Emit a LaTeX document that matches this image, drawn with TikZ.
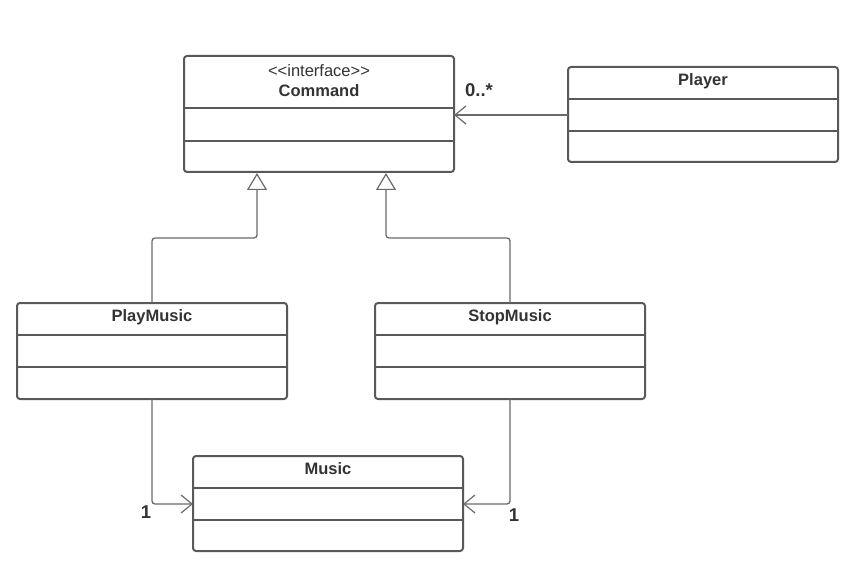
\documentclass[tikz,border=0pt]{standalone}
\usepackage{fontspec}
\setmainfont{Liberation Sans}[Ligatures=TeXOff]
\usetikzlibrary{arrows.meta}
\definecolor{boxc}{HTML}{595959}
\definecolor{linec}{HTML}{6A6A6A}
\definecolor{txtc}{HTML}{333333}
\begin{document}
\begin{tikzpicture}[x=1pt,y=-1pt,
  umlbox/.style={draw=boxc,line width=2pt,rounded corners=3pt},
  divider/.style={draw=boxc,line width=2pt},
  conn/.style={draw=linec,line width=1.3pt,rounded corners=3pt},
  openarrow/.style={-{Straight Barb[length=11pt,width=18pt,line width=1.2pt]}},
  inherit/.style={-{Triangle[open,length=17pt,width=20pt,line width=1.2pt,fill=white]}},
  title/.style={font=\fontsize{16.5}{19}\selectfont\bfseries,text=txtc},
  stereo/.style={font=\fontsize{16.5}{19}\selectfont,text=txtc},
  mult/.style={font=\fontsize{18.5}{21}\selectfont\bfseries,text=txtc}]
\useasboundingbox (0,0) rectangle (866,577);
% Command
\draw[umlbox] (184,56) rectangle (454,172);
\draw[divider] (184,108) -- (454,108);
\draw[divider] (184,141) -- (454,141);
\node[stereo] (cst) at (319,71) {<\kern0pt<interface>\kern0pt>};
\node[title] (cmd) at (319,91) {Command};
\coordinate (cmdR) at (454,115);
\coordinate (cmdB1) at (257,173);
\coordinate (cmdB2) at (386,173);
% Player
\draw[umlbox] (568,67) rectangle (838,162);
\draw[divider] (568,99) -- (838,99);
\draw[divider] (568,131) -- (838,131);
\node[title] (pl) at (703,81) {Player};
\coordinate (plL) at (568,115);
% PlayMusic
\draw[umlbox] (17,303) rectangle (287,399);
\draw[divider] (17,335) -- (287,335);
\draw[divider] (17,367) -- (287,367);
\node[title] (pm) at (152,317) {PlayMusic};
\coordinate (pmT) at (152,303);
\coordinate (pmB) at (152,399);
% StopMusic
\draw[umlbox] (375,303) rectangle (645,399);
\draw[divider] (375,335) -- (645,335);
\draw[divider] (375,367) -- (645,367);
\node[title] (sm) at (510,317) {StopMusic};
\coordinate (smT) at (510,303);
\coordinate (smB) at (510,399);
% Music
\draw[umlbox] (193,456) rectangle (463,551);
\draw[divider] (193,488) -- (463,488);
\draw[divider] (193,520) -- (463,520);
\node[title] (mu) at (328,469) {Music};
\coordinate (muL) at (193,504);
\coordinate (muR) at (463,504);
% connectors
\draw[conn,openarrow] (plL) -- (cmdR);
\node[mult] (m1) at (479,90) {0..*};
\draw[conn,inherit] (pmT) -- (152,238) -- (257,238) -- (cmdB1);
\draw[conn,inherit] (smT) -- (510,238) -- (386,238) -- (cmdB2);
\draw[conn,openarrow] (pmB) -- (152,504) -- (muL);
\draw[conn,openarrow] (smB) -- (510,504) -- (muR);
\node[mult] (m2) at (146,512) {1};
\node[mult] (m3) at (514,515) {1};
\end{tikzpicture}
\end{document}
